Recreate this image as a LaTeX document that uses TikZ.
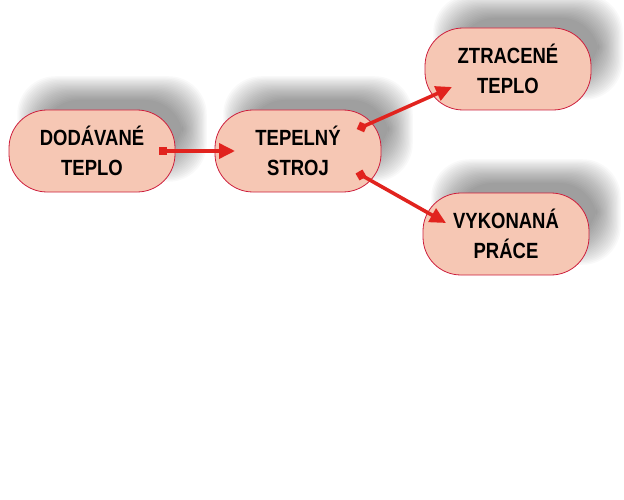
\documentclass[tikz,border=0pt]{standalone}
\usepackage{fontspec}
\setmainfont[FakeStretch=0.84]{Liberation Sans}
\usetikzlibrary{arrows.meta,calc}
\definecolor{boxfill}{RGB}{246,199,180}
\definecolor{boxline}{RGB}{205,30,60}
\definecolor{arrred}{RGB}{225,35,30}
\begin{document}
\begin{tikzpicture}[x=1pt,y=-1pt,
  box/.style={draw=boxline, line width=0.8pt, fill=boxfill, rectangle,
    rounded corners=38pt, minimum width=166pt, minimum height=82pt,
    inner sep=0pt, align=center, font=\fontsize{22}{30}\selectfont\bfseries},
  conn/.style={draw=arrred, line width=3.6pt,
    -{Triangle[length=16pt,width=15pt]}},
  startsq/.style={fill=arrred, minimum size=8pt, inner sep=0pt, rectangle}
]
\useasboundingbox (0,0) rectangle (624,500);
% shadows
\newcommand{\myshadow}[2]{%
  \foreach \i in {0,...,19}{%
    \pgfmathsetmacro{\d}{-12+1.25*\i}%
    \fill[black, opacity=0.022, rounded corners=38pt]
      ($(#1,#2)+(20,-22)+(-83-\d,-41-\d)$) rectangle ($(#1,#2)+(20,-22)+(83+\d,41+\d)$);
  }%
}
\myshadow{92}{151}
\myshadow{298}{151}
\myshadow{508}{69}
\myshadow{506}{234}
% nodes
\node[box] (n1) at (92,151) {DODÁVANÉ\\TEPLO};
\node[box] (n2) at (298,151) {TEPELNÝ\\STROJ};
\node[box] (n3) at (508,69) {ZTRACENÉ\\TEPLO};
\node[box] (n4) at (506,234) {VYKONANÁ\\PRÁCE};
% connector end points
\coordinate (s1) at ($(n1.center)+(71,0)$);
\coordinate (t1) at ($(n2.center)+(-63,0)$);
\coordinate (s2) at ($(n2.center)+(64,-24)$);
\coordinate (t2) at ($(n3.center)+(-56,18)$);
\coordinate (s3) at ($(n2.center)+(63,24)$);
\coordinate (t3) at ($(n4.center)+(-60,-11)$);
% connectors
\draw[conn] (s1) -- (t1);
\draw[conn] (s2) -- (t2);
\draw[conn] (s3) -- (t3);
\node[startsq] (q1) at (s1) {};
\node[startsq, rotate=-24] (q2) at (s2) {};
\node[startsq, rotate=30] (q3) at (s3) {};
\end{tikzpicture}
\end{document}
